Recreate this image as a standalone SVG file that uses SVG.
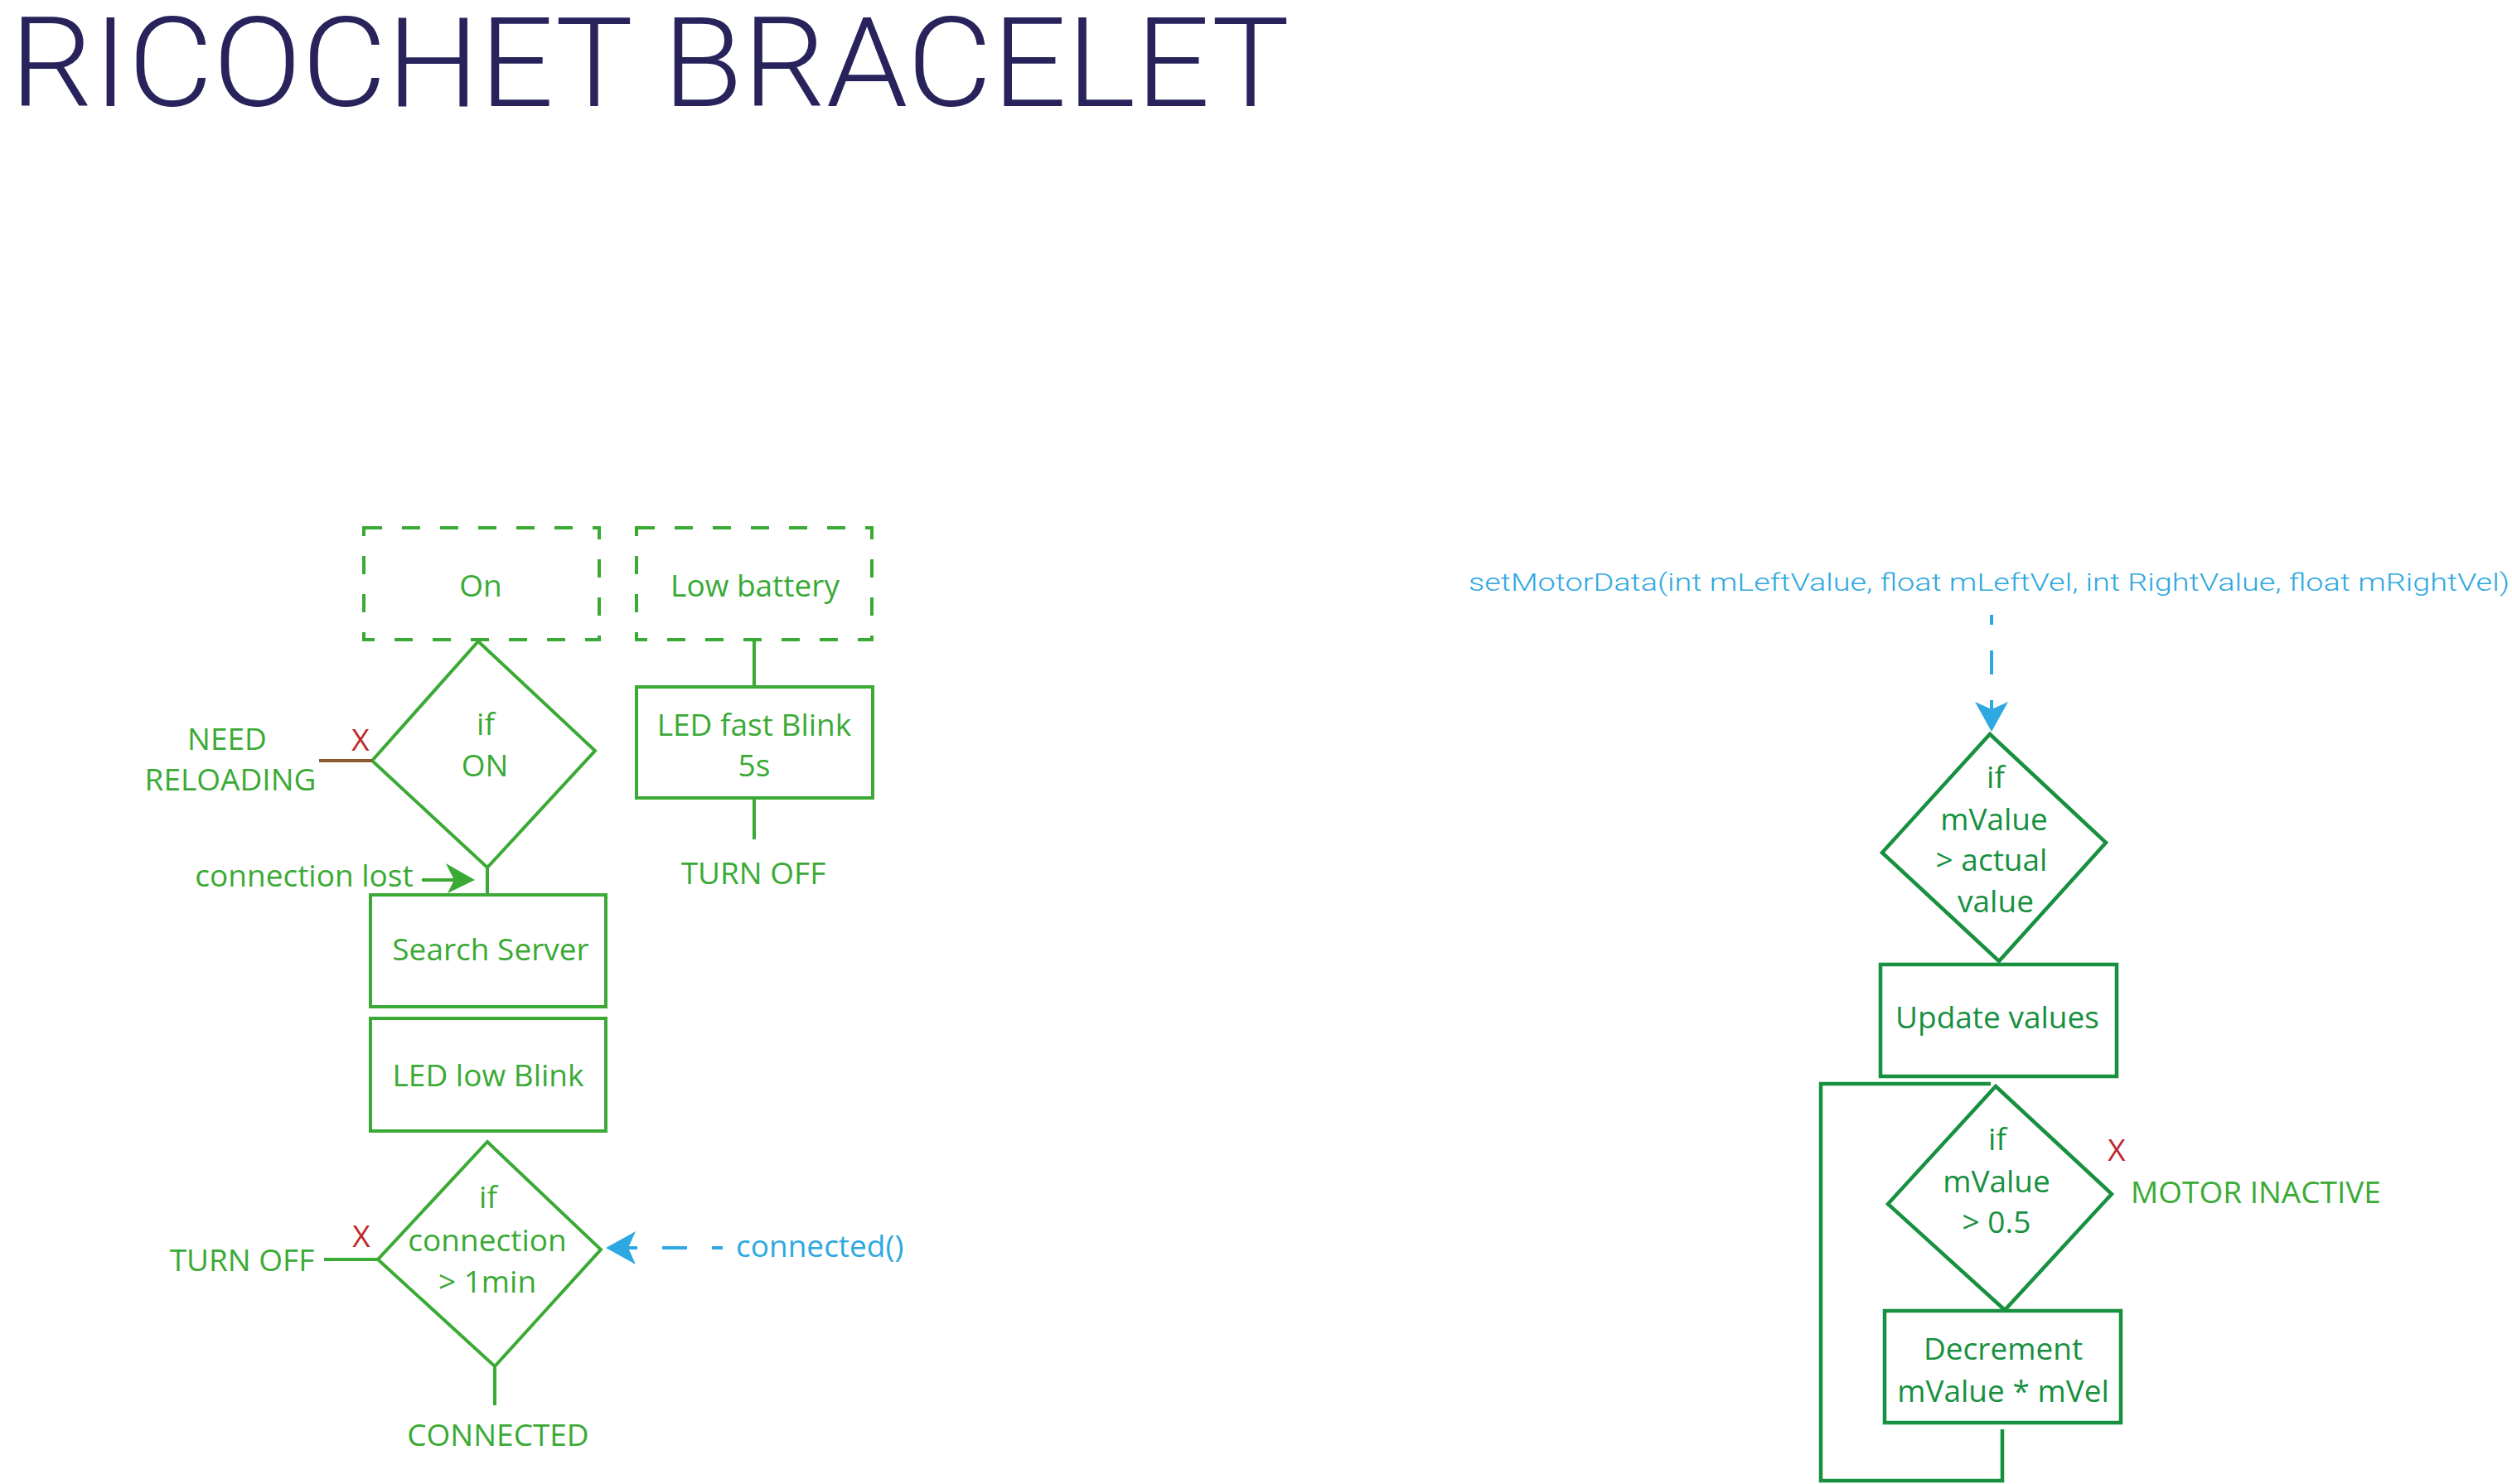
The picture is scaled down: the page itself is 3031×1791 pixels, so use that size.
<svg xmlns="http://www.w3.org/2000/svg" width="3031" height="1791" viewBox="0 0 3031 1791">
<style>
.t{font-family:"Open Sans","Noto Sans","Liberation Sans",sans-serif;font-size:37px;text-anchor:middle}
.g{fill:#3aaa35}
.dg{fill:#17903f}
.red{fill:#c1272d}
.blue{fill:#2ea8e0}
.sg{fill:none;stroke:#3aaa35;stroke-width:4}
.sdg{fill:none;stroke:#17903f;stroke-width:4.5}
.dash{fill:none;stroke:#3aaa35;stroke-width:4;stroke-dasharray:22 24}
.bl{fill:none;stroke:#2ea8e0;stroke-width:4}
</style>
<rect width="3031" height="1791" fill="#ffffff"/>
<text x="12" y="128" font-family="Roboto,'Liberation Sans',sans-serif" font-weight="300" font-size="151" fill="#29235c" textLength="1544" lengthAdjust="spacingAndGlyphs">RICOCHET BRACELET</text>

<g id="node-on">
<rect class="dash" x="439" y="637" width="284" height="135"/>
<text class="t g" x="580" y="720">On</text>
</g>
<g id="node-lowbattery">
<rect class="dash" x="768" y="637" width="284" height="135"/>
<text class="t g" x="911" y="720">Low battery</text>
</g>
<g id="node-if-on">
<polygon class="sg" points="577,774 718,906 588,1047 449,918"/>
<text class="t g" x="586" y="887">if</text>
<text class="t g" x="585" y="937">ON</text>
</g>
<g id="node-led-fast">
<rect class="sg" x="768" y="829" width="285" height="134"/>
<text class="t g" x="910" y="888">LED fast Blink</text>
<text class="t g" x="910" y="937">5s</text>
</g>
<g id="label-need-reloading">
<text class="t g" x="274" y="905">NEED</text>
<text class="t g" x="278" y="954">RELOADING</text>
<text class="t red" x="435" y="906">X</text>
</g>
<g id="label-turnoff-top">
<text class="t g" x="909" y="1067">TURN OFF</text>
</g>
<g id="label-connection-lost">
<text class="t g" x="367" y="1070">connection lost</text>
</g>
<g id="node-search-server">
<rect class="sg" x="447" y="1080" width="284" height="135"/>
<text class="t g" x="592" y="1159">Search Server</text>
</g>
<g id="node-led-low">
<rect class="sg" x="447" y="1229" width="284" height="136"/>
<text class="t g" x="589" y="1311">LED low Blink</text>
</g>
<g id="node-if-connection">
<polygon class="sg" points="588,1378 725,1508 597,1649 456,1520"/>
<text class="t g" x="589" y="1458">if</text>
<text class="t g" x="588" y="1510">connection</text>
<text class="t g" x="588" y="1560">&gt; 1min</text>
</g>
<g id="label-turnoff-left">
<text class="t g" x="292" y="1534">TURN OFF</text>
<text class="t red" x="436" y="1505">X</text>
</g>
<g id="label-connected">
<text class="t g" x="601" y="1745">CONNECTED</text>
</g>
<g id="label-connected-fn">
<text class="t blue" x="888" y="1517" style="text-anchor:start">connected()</text>
</g>

<g id="label-setmotordata">
<text x="1772" y="713" font-family="Roboto,'Liberation Sans',sans-serif" font-weight="300" font-size="29" fill="#2ea8e0" textLength="1256" lengthAdjust="spacingAndGlyphs">setMotorData(int mLeftValue, float mLeftVel, int RightValue, float mRightVel)</text>
</g>
<g id="node-if-actual">
<polygon class="sdg" points="2401,886 2541,1017 2412,1160 2271,1029"/>
<text class="t dg" x="2408" y="951">if</text>
<text class="t dg" x="2406" y="1002">mValue</text>
<text class="t dg" x="2403" y="1051">&gt; actual</text>
<text class="t dg" x="2408" y="1101">value</text>
</g>
<g id="node-update">
<rect class="sdg" x="2269" y="1164" width="285" height="135"/>
<text class="t dg" x="2410" y="1241">Update values</text>
</g>
<g id="node-if-half">
<polygon class="sdg" points="2408,1311 2548,1441 2419,1581 2278,1453"/>
<text class="t dg" x="2410" y="1388">if</text>
<text class="t dg" x="2409" y="1439">mValue</text>
<text class="t dg" x="2409" y="1488">&gt; 0.5</text>
</g>
<g id="label-motor-inactive">
<text class="t red" x="2554" y="1401">X</text>
<text class="t g" x="2571" y="1452" style="text-anchor:start">MOTOR INACTIVE</text>
</g>
<g id="node-decrement">
<rect class="sdg" x="2274" y="1582" width="285" height="135"/>
<text class="t dg" x="2417" y="1641">Decrement</text>
<text class="t dg" x="2417" y="1692">mValue * mVel</text>
</g>

<g id="connectors">
<line class="sg" x1="588" y1="1047" x2="588" y2="1080"/>
<line class="sg" x1="910" y1="774" x2="910" y2="829"/>
<line class="sg" x1="910" y1="963" x2="910" y2="1013"/>
<line x1="385" y1="918" x2="449" y2="918" stroke="#8c5a2e" stroke-width="4"/>
<line class="sg" x1="391" y1="1520" x2="456" y2="1520"/>
<line class="sg" x1="597" y1="1649" x2="597" y2="1696"/>
<line class="sg" x1="509" y1="1062" x2="550" y2="1062" stroke-width="3.5"/>
<polygon points="573,1062 538,1042 548,1062 540,1078" fill="#3aaa35"/>
<polygon points="731,1506 767,1486 758,1506 767,1526" fill="#2ea8e0"/>
<line class="bl" x1="756" y1="1506" x2="769" y2="1506"/>
<line class="bl" x1="799" y1="1506" x2="829" y2="1506"/>
<line class="bl" x1="859" y1="1506" x2="872" y2="1506"/>
<line class="bl" x1="2403" y1="742" x2="2403" y2="754"/>
<line class="bl" x1="2403" y1="785" x2="2403" y2="814"/>
<line class="bl" x1="2403" y1="845" x2="2403" y2="858"/>
<polygon points="2403,883 2383,847 2403,856 2423,847" fill="#2ea8e0"/>
<polyline class="sdg" points="2402,1308 2197,1308 2197,1787 2416,1787 2416,1725"/>
</g>
</svg>
